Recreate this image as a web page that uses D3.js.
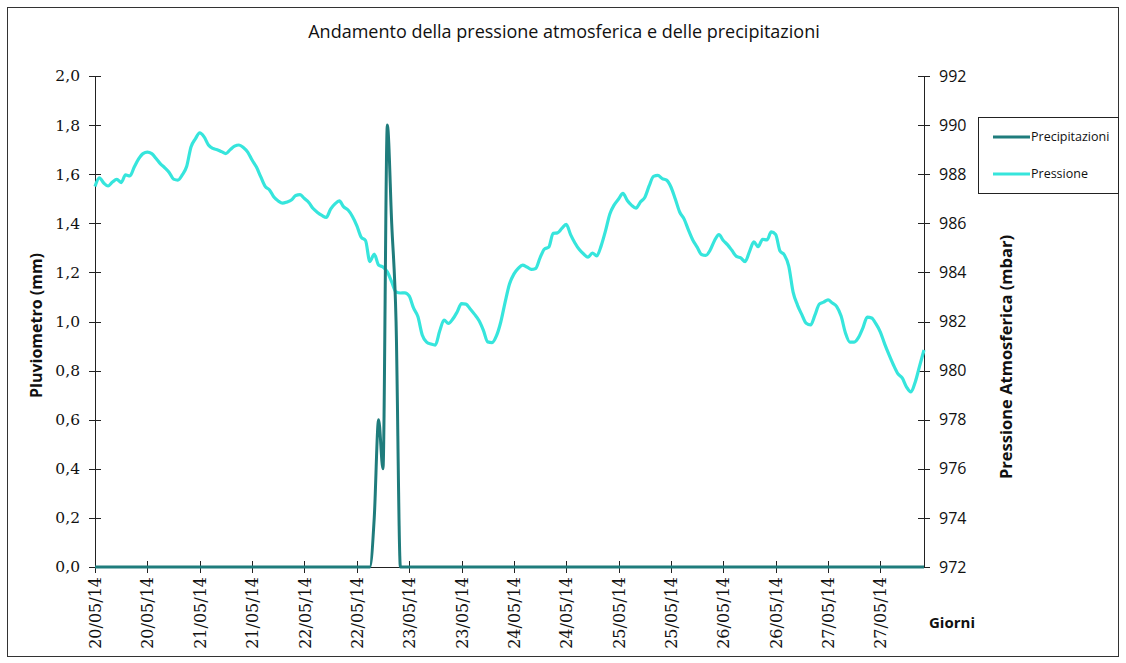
<!DOCTYPE html>
<html>
  <head>
    <meta charset="utf-8">
    <title>Pressione e precipitazioni</title>
    <script type="text/javascript" src="https://cdn.jsdelivr.net/npm/d3@7"></script>
    <style type='text/css'>
      body {
        margin: 0;
        background: white;
      }
      .axis path,
      .axis line {
        stroke: #222;
        shape-rendering: crispEdges;
      }
      .xaxis text,
      .yleft text {
        font-family: 'DejaVu Serif', serif;
        font-size: 15px;
        fill: #111;
      }
      .yright text {
        font-family: 'Open Sans', sans-serif;
        font-size: 16px;
        fill: #111;
      }
      .title {
        font-family: 'Open Sans', sans-serif;
        fill: #111;
      }
    </style>
  </head>
  <body>
    <script type="text/javascript">
      var w = 1126;
      var h = 663;

      // readings every hour starting 20/05/14 00:00
      var startTime = Date.UTC(2014, 4, 20, 0, 0);
      var hoursShown = 190;

      var leftTicks = [0, 0.2, 0.4, 0.6, 0.8, 1.0, 1.2, 1.4, 1.6, 1.8, 2.0];
      var rightTicks = [972, 974, 976, 978, 980, 982, 984, 986, 988, 990, 992];
      var seriesNames = ['Precipitazioni', 'Pressione'];
      var seriesColors = ['#1f7c7c', '#36e5dc'];

      // Pluviometro (mm), hourly
      var precipitazioni = [
        0, 0, 0, 0, 0, 0, 0, 0, 0, 0, 0, 0, 0, 0, 0, 0, 0, 0, 0, 0,
        0, 0, 0, 0, 0, 0, 0, 0, 0, 0, 0, 0, 0, 0, 0, 0, 0, 0, 0, 0,
        0, 0, 0, 0, 0, 0, 0, 0, 0, 0, 0, 0, 0, 0, 0, 0, 0, 0, 0, 0,
        0, 0, 0, 0, 0.2, 0.6, 0.4, 1.8, 1.4, 1.0, 0, 0, 0, 0, 0, 0, 0, 0, 0, 0,
        0, 0, 0, 0, 0, 0, 0, 0, 0, 0, 0, 0, 0, 0, 0, 0, 0, 0, 0, 0,
        0, 0, 0, 0, 0, 0, 0, 0, 0, 0, 0, 0, 0, 0, 0, 0, 0, 0, 0, 0,
        0, 0, 0, 0, 0, 0, 0, 0, 0, 0, 0, 0, 0, 0, 0, 0, 0, 0, 0, 0,
        0, 0, 0, 0, 0, 0, 0, 0, 0, 0, 0, 0, 0, 0, 0, 0, 0, 0, 0, 0,
        0, 0, 0, 0, 0, 0, 0, 0, 0, 0, 0, 0, 0, 0, 0, 0, 0, 0, 0, 0,
        0, 0, 0, 0, 0, 0, 0, 0, 0, 0, 0
      ];

      // Pressione atmosferica (mbar), hourly
      var pressione = [
        987.50, 987.85, 987.64, 987.52, 987.68, 987.79, 987.66, 987.97, 987.93, 988.29,
        988.62, 988.84, 988.90, 988.84, 988.64, 988.42, 988.26, 988.07, 987.80, 987.76,
        987.97, 988.31, 989.11, 989.44, 989.68, 989.52, 989.19, 989.05, 989.00, 988.92,
        988.84, 989.00, 989.14, 989.19, 989.09, 988.90, 988.58, 988.29, 987.89, 987.50,
        987.36, 987.07, 986.91, 986.82, 986.87, 986.95, 987.13, 987.17, 987.01, 986.85,
        986.60, 986.44, 986.32, 986.24, 986.58, 986.79, 986.91, 986.67, 986.54, 986.28,
        985.91, 985.44, 985.30, 984.44, 984.75, 984.30, 984.22, 984.02, 983.61, 983.20,
        983.16, 983.17, 983.04, 982.55, 982.20, 981.45, 981.16, 981.08, 981.04, 981.61,
        982.06, 981.92, 982.10, 982.39, 982.73, 982.71, 982.51, 982.29, 982.04, 981.65,
        981.17, 981.14, 981.41, 981.98, 982.79, 983.53, 983.93, 984.16, 984.30, 984.22,
        984.12, 984.16, 984.59, 984.95, 985.03, 985.59, 985.61, 985.79, 985.96, 985.54,
        985.20, 984.93, 984.75, 984.62, 984.79, 984.67, 985.08, 985.69, 986.38, 986.75,
        986.99, 987.22, 986.93, 986.73, 986.62, 986.87, 987.05, 987.52, 987.91, 987.95,
        987.82, 987.76, 987.48, 986.99, 986.46, 986.18, 985.73, 985.32, 985.03, 984.73,
        984.69, 984.91, 985.30, 985.54, 985.30, 985.12, 984.89, 984.65, 984.59, 984.44,
        984.85, 985.24, 985.05, 985.35, 985.32, 985.65, 985.54, 984.87, 984.71, 984.26,
        983.20, 982.67, 982.28, 981.93, 981.86, 982.26, 982.71, 982.79, 982.88, 982.75,
        982.61, 982.22, 981.53, 981.16, 981.16, 981.35, 981.74, 982.18, 982.14, 981.90,
        981.57, 981.08, 980.64, 980.23, 979.88, 979.70, 979.33, 979.13, 979.54, 980.19,
        980.84
      ];

      function timeOf(i) {
        return new Date(startTime + i * 3600 * 1000);
      }

      var plot = {left: 95, right: 924, top: 76, bottom: 567};

      var svg = d3.select('body')
                  .append('svg')
                  .attr('width', w)
                  .attr('height', h);

      // outer frame
      svg.append('rect')
        .attr('x', 7.5)
        .attr('y', 7.5)
        .attr('width', 1111)
        .attr('height', 649)
        .attr('fill', 'white')
        .attr('stroke', '#333')
        .attr('stroke-width', 1);

      var xScale = d3.scaleUtc()
                     .domain([timeOf(0), timeOf(hoursShown)])
                     .range([plot.left, plot.right]);

      var yLeft = d3.scaleLinear()
                    .domain([0, 2])
                    .range([plot.bottom, plot.top]);

      var yRight = d3.scaleLinear()
                     .domain([972, 992])
                     .range([plot.bottom, plot.top]);

      var xTicks = d3.utcHour.every(12).range(timeOf(0), timeOf(hoursShown));

      var xAxis = d3.axisBottom(xScale)
                    .tickValues(xTicks)
                    .tickFormat(d3.utcFormat('%d/%m/%y'))
                    .tickSizeInner(6)
                    .tickSizeOuter(0);

      var leftAxis = d3.axisLeft(yLeft)
                       .tickValues(leftTicks)
                       .tickFormat(function(d) { return d3.format('.1f')(d).replace('.', ','); })
                       .tickSizeInner(6)
                       .tickSizeOuter(0)
                       .tickPadding(9);

      var rightAxis = d3.axisRight(yRight)
                        .tickValues(rightTicks)
                        .tickSizeInner(6)
                        .tickSizeOuter(0)
                        .tickPadding(9);

      svg.append('g')
        .attr('class', 'axis yleft')
        .attr('transform', 'translate(' + plot.left + ',0)')
        .call(leftAxis);

      svg.append('g')
        .attr('class', 'axis yright')
        .attr('transform', 'translate(' + plot.right + ',0)')
        .call(rightAxis);

      var gx = svg.append('g')
        .attr('class', 'axis xaxis')
        .attr('transform', 'translate(0,' + plot.bottom + ')')
        .call(xAxis);

      gx.selectAll('.tick text')
        .attr('transform', 'rotate(-90)')
        .attr('x', -10)
        .attr('y', 0)
        .attr('dy', '0.35em')
        .style('text-anchor', 'end')
        .style('font-size', '16px');

      // make the ticks cross the axis lines like in Excel
      svg.selectAll('.yleft .tick line').attr('x1', 6);
      svg.selectAll('.yright .tick line').attr('x1', -6);
      gx.selectAll('.tick line').attr('y1', -6);

      svg.selectAll('.yleft .tick text').style('font-size', '15.5px');

      // lines
      var precipLine = d3.line()
                         .x(function(d, i) { return xScale(timeOf(i)); })
                         .y(function(d) { return yLeft(d); })
                         .curve(d3.curveMonotoneX);

      var pressLine = d3.line()
                        .x(function(d, i) { return xScale(timeOf(i)); })
                        .y(function(d) { return yRight(d); })
                        .curve(d3.curveMonotoneX);

      svg.append('path')
        .datum(pressione)
        .attr('d', pressLine)
        .attr('fill', 'none')
        .attr('stroke', seriesColors[1])
        .attr('stroke-width', 3.2)
        .attr('stroke-linejoin', 'round');

      svg.append('path')
        .datum(precipitazioni)
        .attr('d', precipLine)
        .attr('fill', 'none')
        .attr('stroke', seriesColors[0])
        .attr('stroke-width', 3)
        .attr('stroke-linejoin', 'round');

      // title and axis titles
      svg.append('text')
        .attr('class', 'title')
        .attr('x', 564)
        .attr('y', 38)
        .style('text-anchor', 'middle')
        .style('font-size', '18px')
        .text('Andamento della pressione atmosferica e delle precipitazioni');

      svg.append('text')
        .attr('class', 'title')
        .attr('transform', 'translate(42,' + ((plot.top + plot.bottom) / 2 + 4) + ') rotate(-90)')
        .style('text-anchor', 'middle')
        .style('font-weight', 'bold')
        .style('font-size', '16px')
        .text('Pluviometro (mm)');

      svg.append('text')
        .attr('class', 'title')
        .attr('transform', 'translate(1012,357) rotate(-90)')
        .style('text-anchor', 'middle')
        .style('font-weight', 'bold')
        .style('font-size', '16.5px')
        .text('Pressione Atmosferica (mbar)');

      svg.append('text')
        .attr('class', 'title')
        .attr('x', 952)
        .attr('y', 628)
        .style('text-anchor', 'middle')
        .style('font-weight', 'bold')
        .style('font-size', '15px')
        .text('Giorni');

      // legend
      var legend = svg.append('g')
                      .attr('transform', 'translate(978,117)');

      legend.append('rect')
        .attr('x', 0.5)
        .attr('y', 0.5)
        .attr('width', 140)
        .attr('height', 76)
        .attr('fill', 'white')
        .attr('stroke', '#222');

      var items = legend.selectAll('g.item')
        .data(seriesNames)
        .enter()
        .append('g')
        .attr('class', 'item')
        .attr('transform', function(d, i) { return 'translate(0,' + (20 + i * 37) + ')'; });

      items.append('line')
        .attr('x1', 15)
        .attr('x2', 52)
        .attr('y1', 0)
        .attr('y2', 0)
        .attr('stroke', function(d, i) { return seriesColors[i]; })
        .attr('stroke-width', 3);

      items.append('text')
        .attr('class', 'title')
        .attr('x', 53)
        .attr('y', 4)
        .style('font-size', '12.5px')
        .text(function(d) { return d; });
    </script>
  </body>
</html>
